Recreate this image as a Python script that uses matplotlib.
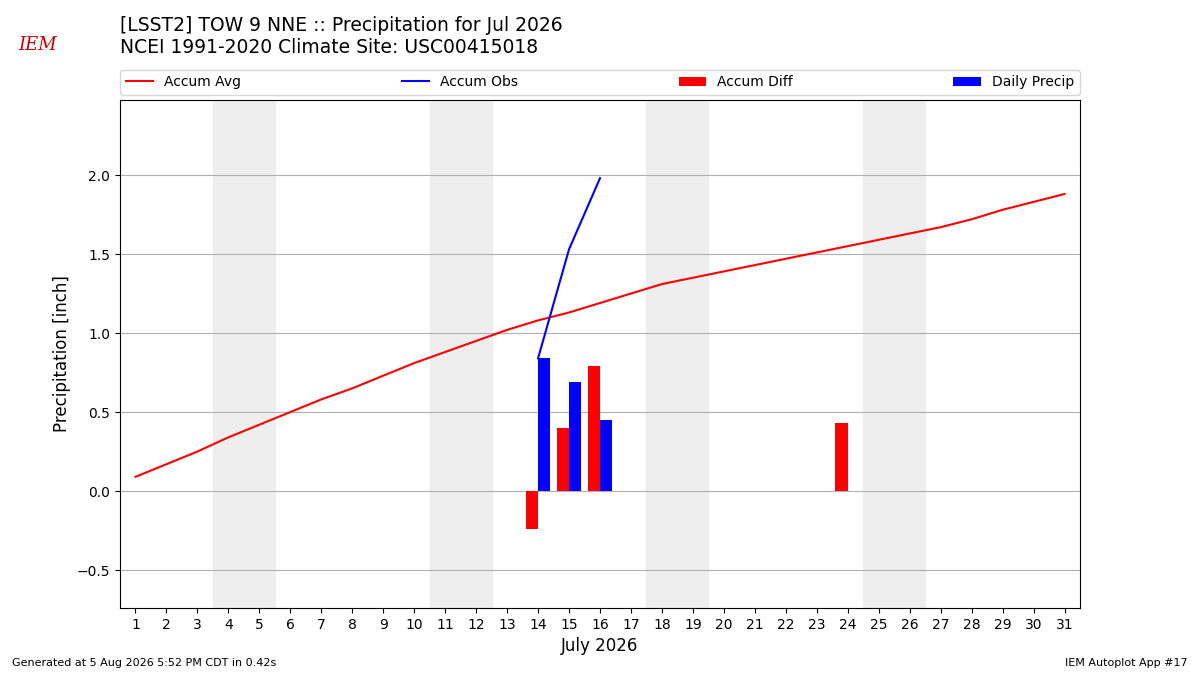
import matplotlib
matplotlib.use("Agg")
import matplotlib.pyplot as plt
import numpy as np

# days of July 2026
days = np.arange(1, 32)

# accumulated climate average precipitation [inch]
accum_avg = [0.09, 0.17, 0.25, 0.34, 0.42, 0.50, 0.58, 0.65, 0.73, 0.81,
             0.88, 0.95, 1.02, 1.08, 1.13, 1.19, 1.25, 1.31, 1.35, 1.39,
             1.43, 1.47, 1.51, 1.55, 1.59, 1.63, 1.67, 1.72, 1.78, 1.83, 1.88]

# observed
obs_days = [14, 15, 16]
daily_precip = [0.84, 0.69, 0.45]
accum_obs = [0.84, 1.53, 1.98]

diff_days = [14, 15, 16, 24]
accum_diff = [-0.24, 0.40, 0.79, 0.43]

weekends = [(4, 5), (11, 12), (18, 19), (25, 26)]

fig = plt.figure(figsize=(12, 6.75), dpi=100)
ax = fig.add_axes([0.1, 0.0993, 0.8, 0.7526])

for a, b in weekends:
    ax.axvspan(a - 0.5, b + 0.5, color="#eeeeee", zorder=0)

ax.plot(days, accum_avg, color="r", label="Accum Avg", zorder=3)
ax.plot(obs_days, accum_obs, color="b", label="Accum Obs", zorder=3)
ax.bar(np.array(diff_days) - 0.2, accum_diff, width=0.4, color="r",
       label="Accum Diff", zorder=2)
ax.bar(np.array(obs_days) + 0.2, daily_precip, width=0.4, color="b",
       label="Daily Precip", zorder=2)

ax.set_xlim(0.5, 31.5)
ax.set_ylim(-0.74, 2.475)
ax.set_xticks(days)
ax.set_yticks([-0.5, 0.0, 0.5, 1.0, 1.5, 2.0])
ax.grid(axis="y", color="#b0b0b0", zorder=1)
ax.set_axisbelow(True)
ax.set_xlabel("July 2026", fontsize=12)
ax.set_ylabel("Precipitation [inch]", fontsize=12)
ax.tick_params(labelsize=10)

ax.legend(loc="lower left", bbox_to_anchor=(0, 1.01, 1, 0.1), ncol=4,
          mode="expand", borderaxespad=0, fontsize=10)

fig.text(0.1, 0.962, "[LSST2] TOW 9 NNE :: Precipitation for Jul 2026",
         fontsize=13.5, va="center")
fig.text(0.1, 0.929, "NCEI 1991-2020 Climate Site: USC00415018",
         fontsize=13.5, va="center")

# logo stand-in
fig.text(0.031, 0.933, "IEM", color="#cc0000", fontsize=13, style="italic",
         family="serif", ha="center", va="center")

fig.text(0.01, 0.013, "Generated at 5 Aug 2026 5:52 PM CDT in 0.42s",
         fontsize=8)
fig.text(0.99, 0.013, "IEM Autoplot App #17", fontsize=8, ha="right")

fig.savefig("out.png", dpi=100)
